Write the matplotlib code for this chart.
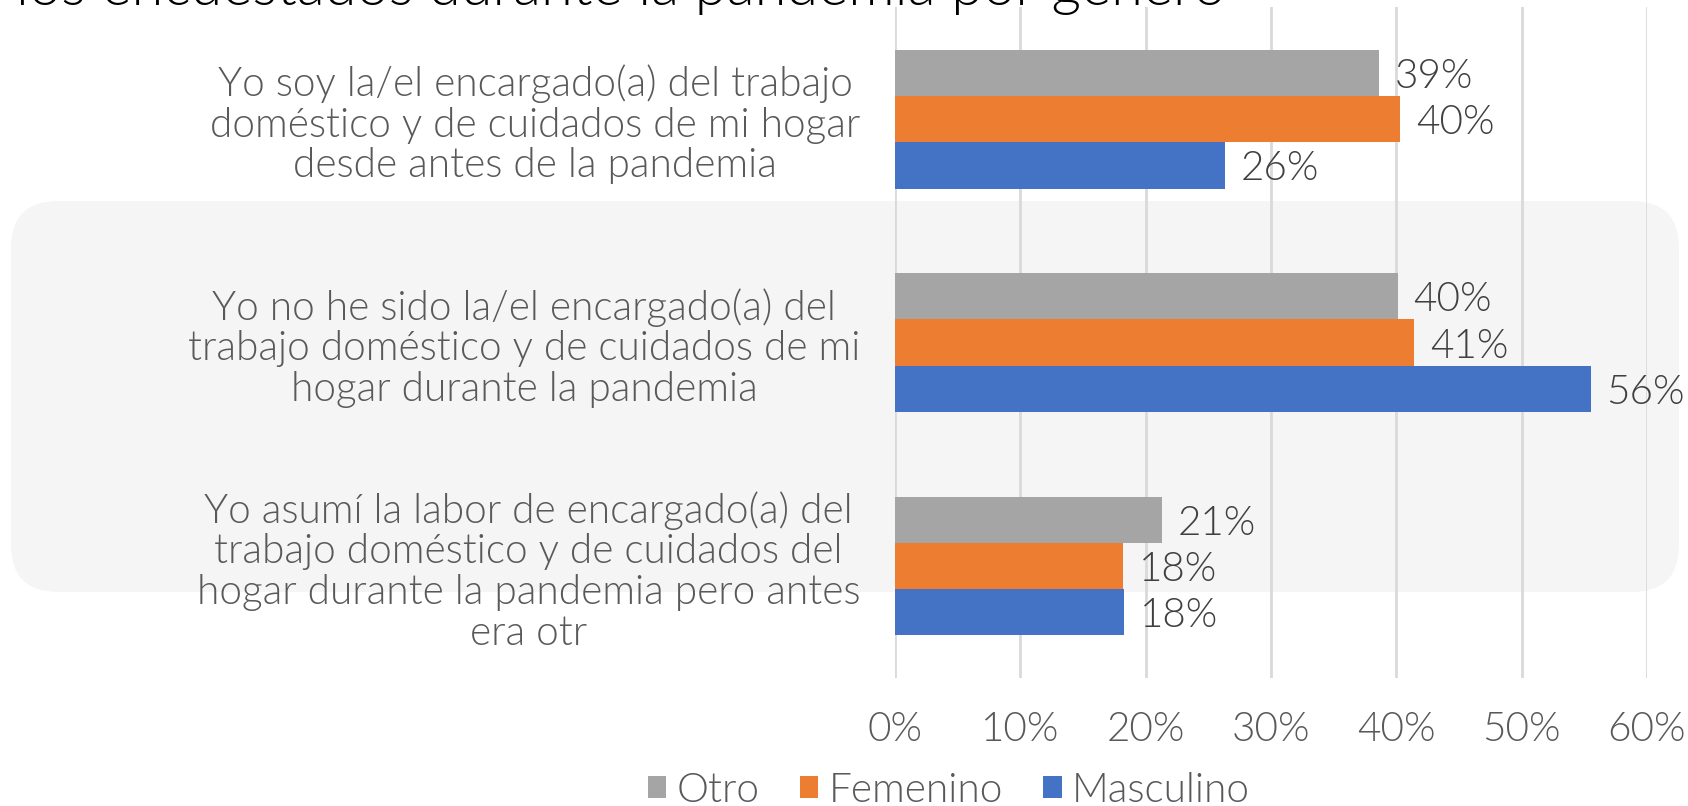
import matplotlib
matplotlib.use("Agg")
import matplotlib.pyplot as plt
from matplotlib.patches import FancyBboxPatch
import numpy as np

categories = [
    "Yo soy la/el encargado(a) del trabajo\ndoméstico y de cuidados de mi hogar\ndesde antes de la pandemia",
    "Yo no he sido la/el encargado(a) del\ntrabajo doméstico y de cuidados de mi\nhogar durante la pandemia",
    "Yo asumí la labor de encargado(a) del\ntrabajo doméstico y de cuidados del\nhogar durante la pandemia pero antes\nera otr",
]
series_names = ["Otro", "Femenino", "Masculino"]
otro = [38.6, 40.1, 21.3]
femenino = [40.3, 41.4, 18.2]
masculino = [26.3, 55.5, 18.3]
value_labels = [["39%", "40%", "21%"], ["40%", "41%", "18%"], ["26%", "56%", "18%"]]
xticks = [0, 10, 20, 30, 40, 50, 60]
xtick_labels = ["0%", "10%", "20%", "30%", "40%", "50%", "60%"]
title = "los encuestados durante la pandemia por género"

colors = ["#A5A5A5", "#ED7D31", "#4472C4"]
W, H = 1688, 806
fig = plt.figure(figsize=(W / 100, H / 100), dpi=100)
renderer = fig.canvas.get_renderer()

FONT = "Lato"
WT = 300
TXT = "#595959"

def fit(text, target_px, **kw):
    t = fig.text(0, 0, text, fontsize=20, **kw)
    w = t.get_window_extent(renderer).width
    t.remove()
    return 20 * target_px / w

fs = fit("doméstico y de cuidados de mi hogar", 651, family=FONT, fontweight=WT)
tfs = fit(title, 1212, family=FONT, fontweight=WT)

# background rounded rectangle
bg = FancyBboxPatch((11 / W, 1 - 592 / H), (1679 - 11) / W, (592 - 201) / H,
                    boxstyle="round,pad=0,rounding_size=0.028",
                    transform=fig.transFigure, facecolor="#F5F5F5",
                    edgecolor="none", zorder=-5, mutation_aspect=W / H)
fig.patches.append(bg)

left, right = 895 / W, 1647 / W
top, bottom = 1 - 7.4 / H, 1 - 677.7 / H
ax = fig.add_axes([left, bottom, right - left, top - bottom])
ax.set_facecolor("none")

y = np.arange(len(categories))
h = 0.2072
data = [otro, femenino, masculino]
offsets = [-h, 0, h]
for k in range(3):
    ax.barh(y + offsets[k], data[k], height=h, color=colors[k], label=series_names[k], zorder=3)
    for i in range(3):
        ax.text(data[k][i] + 16 / 125.3 * 10, y[i] + offsets[k], value_labels[k][i],
                va="center_baseline", ha="left", fontsize=fs, color="#404040",
                family=FONT, fontweight=WT, zorder=4, clip_on=False)

ax.set_xlim(0, 60)
ax.set_ylim(2.5, -0.5)
ax.set_xticks(xticks)
ax.set_xticklabels(xtick_labels, fontsize=fs, color=TXT, family=FONT, fontweight=WT)
ax.set_yticks(y)
ax.set_yticklabels(categories, fontsize=fs, color=TXT, family=FONT, fontweight=WT,
                   linespacing=1.12)
for t in ax.get_yticklabels():
    t.set_multialignment("center")
ax.tick_params(axis="x", length=0, pad=24)
ax.tick_params(axis="y", length=0, pad=25)
ax.grid(axis="x", color="#D9D9D9", linewidth=2, zorder=0)
ax.set_axisbelow(True)
for s in ax.spines.values():
    s.set_visible(False)

fig.text(16 / W, 1 - 5 / H, title, fontsize=tfs, color="black", family=FONT,
         fontweight=WT, ha="left", va="baseline")

leg = fig.legend(loc="center", bbox_to_anchor=(949 / W, 1 - 790 / H), ncol=3, frameon=False,
                 prop={"family": FONT, "weight": WT, "size": fs},
                 handlelength=0.45, handleheight=0.45, handletextpad=0.25,
                 columnspacing=1.0, borderaxespad=0, borderpad=0)
for t in leg.get_texts():
    t.set_color(TXT)

fig.savefig("out.png", dpi=100)
